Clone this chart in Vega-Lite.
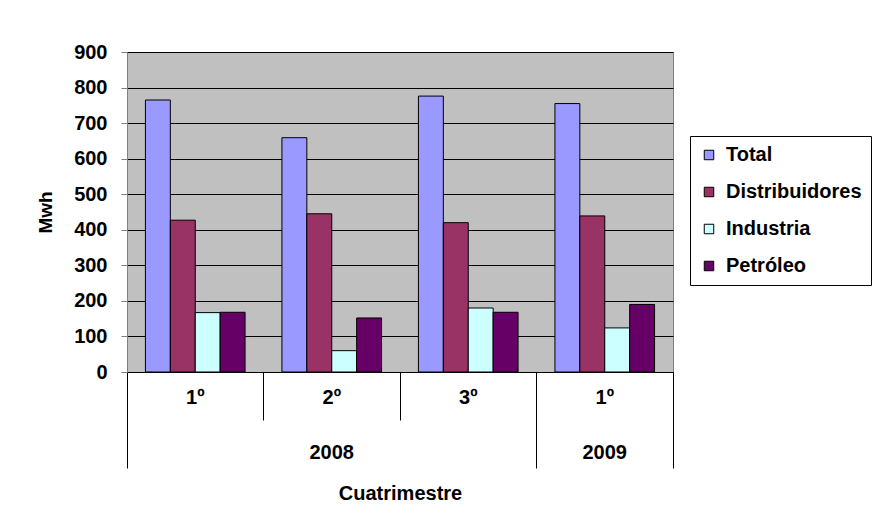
{
  "$schema": "https://vega.github.io/schema/vega-lite/v6.json",
  "width": 546,
  "height": 320,
  "autosize": {"type": "none"},
  "padding": {"left": 127, "top": 52, "right": 208, "bottom": 146},
  "background": "white",
  "config": {
    "font": "Liberation Sans",
    "view": {"fill": "#C0C0C0", "stroke": "#808080", "strokeWidth": 1},
    "axisY": {
      "titleFontSize": 19,
      "titleFontWeight": "bold",
      "titleColor": "black",
      "titlePadding": 18,
      "grid": true,
      "gridColor": "black",
      "tickSize": 6,
      "tickColor": "#808080",
      "domainColor": "#808080",
      "labelPadding": 14,
      "labelFontSize": 20,
      "labelFontWeight": "bold",
      "labelColor": "black"
    }
  },
  "data": {
    "values": [
      {"periodo": "2008-1", "serie": "Total", "mwh": 765},
      {"periodo": "2008-1", "serie": "Distribuidores", "mwh": 427},
      {"periodo": "2008-1", "serie": "Industria", "mwh": 167},
      {"periodo": "2008-1", "serie": "Petróleo", "mwh": 168},
      {"periodo": "2008-2", "serie": "Total", "mwh": 659},
      {"periodo": "2008-2", "serie": "Distribuidores", "mwh": 445},
      {"periodo": "2008-2", "serie": "Industria", "mwh": 60},
      {"periodo": "2008-2", "serie": "Petróleo", "mwh": 152},
      {"periodo": "2008-3", "serie": "Total", "mwh": 776},
      {"periodo": "2008-3", "serie": "Distribuidores", "mwh": 420},
      {"periodo": "2008-3", "serie": "Industria", "mwh": 180},
      {"periodo": "2008-3", "serie": "Petróleo", "mwh": 168},
      {"periodo": "2009-1", "serie": "Total", "mwh": 755},
      {"periodo": "2009-1", "serie": "Distribuidores", "mwh": 439},
      {"periodo": "2009-1", "serie": "Industria", "mwh": 124},
      {"periodo": "2009-1", "serie": "Petróleo", "mwh": 190}
    ]
  },
  "resolve": {"axis": {"x": "independent"}},
  "layer": [
    {
      "mark": {"type": "bar", "stroke": "black", "strokeWidth": 1},
      "encoding": {
        "x": {
          "field": "periodo",
          "type": "nominal",
          "sort": ["2008-1", "2008-2", "2008-3", "2009-1"],
          "scale": {"type": "band", "paddingInner": 0, "paddingOuter": 0},
          "axis": {
            "orient": "bottom",
            "title": null,
            "grid": false,
            "bandPosition": 0,
            "tickSize": 48,
            "tickColor": "black",
            "domainColor": "black",
            "labelAngle": 0,
            "labelAlign": "center",
            "labelExpr": "slice(datum.value, 5) + 'º'",
            "labelBaseline": "middle",
            "labelPadding": -23,
            "labelFontSize": 20,
            "labelFontWeight": "bold",
            "labelColor": "black"
          }
        },
        "xOffset": {
          "field": "serie",
          "type": "nominal",
          "sort": ["Total", "Distribuidores", "Industria", "Petróleo"],
          "scale": {"paddingInner": 0, "paddingOuter": 0.74}
        },
        "y": {
          "field": "mwh",
          "type": "quantitative",
          "scale": {"domain": [0, 900], "nice": false},
          "axis": {
            "title": "Mwh",
            "values": [0, 100, 200, 300, 400, 500, 600, 700, 800, 900]
          }
        },
        "color": {
          "field": "serie",
          "type": "nominal",
          "sort": ["Total", "Distribuidores", "Industria", "Petróleo"],
          "scale": {
            "domain": ["Total", "Distribuidores", "Industria", "Petróleo"],
            "range": ["#9999FF", "#993366", "#CCFFFF", "#660066"]
          },
          "legend": {
            "title": null,
            "orient": "none",
            "legendX": 563,
            "legendY": 84,
            "padding": 9,
            "strokeColor": "black",
            "fillColor": "white",
            "symbolType": "square",
            "symbolSize": 90,
            "symbolStrokeColor": "black",
            "symbolStrokeWidth": 1,
            "labelFontSize": 20,
            "labelFontWeight": "bold",
            "labelColor": "black",
            "labelOffset": 7,
            "rowPadding": 17,
            "labelLimit": 300
          }
        }
      }
    },
    {
      "mark": {"type": "bar", "opacity": 0},
      "encoding": {
        "x": {
          "field": "periodo",
          "type": "nominal",
          "sort": ["2008-1", "2008-2", "2008-3", "2009-1"],
          "axis": {
            "orient": "bottom",
            "values": ["2008-1", "2009-1"],
            "bandPosition": 0,
            "title": "Cuatrimestre",
            "titleFontSize": 20,
            "titleFontWeight": "bold",
            "titleColor": "black",
            "titlePadding": 15,
            "grid": false,
            "domain": false,
            "labels": false,
            "tickSize": 96,
            "tickColor": "black"
          }
        },
        "xOffset": {"field": "serie", "type": "nominal", "sort": ["Total", "Distribuidores", "Industria", "Petróleo"]},
        "y": {
          "field": "mwh",
          "type": "quantitative",
          "axis": {"title": "Mwh", "values": [0, 100, 200, 300, 400, 500, 600, 700, 800, 900]}
        }
      }
    },
    {
      "mark": {"type": "bar", "opacity": 0},
      "encoding": {
        "x": {
          "field": "periodo",
          "type": "nominal",
          "sort": ["2008-1", "2008-2", "2008-3", "2009-1"],
          "axis": {
            "orient": "bottom",
            "values": ["2009-1"],
            "bandPosition": 1,
            "title": null,
            "grid": false,
            "domain": false,
            "labels": false,
            "tickSize": 96,
            "tickColor": "black"
          }
        },
        "xOffset": {"field": "serie", "type": "nominal", "sort": ["Total", "Distribuidores", "Industria", "Petróleo"]},
        "y": {
          "field": "mwh",
          "type": "quantitative",
          "axis": {"title": "Mwh", "values": [0, 100, 200, 300, 400, 500, 600, 700, 800, 900]}
        }
      }
    },
    {
      "mark": {"type": "bar", "opacity": 0},
      "encoding": {
        "x": {
          "field": "periodo",
          "type": "nominal",
          "sort": ["2008-1", "2008-2", "2008-3", "2009-1"],
          "axis": {
            "orient": "bottom",
            "values": ["2008-2", "2009-1"],
            "title": null,
            "grid": false,
            "domain": false,
            "ticks": false,
            "labelAngle": 0,
            "labelExpr": "datum.value == '2008-2' ? '2008' : '2009'",
            "labelBaseline": "middle",
            "labelPadding": 80,
            "labelFontSize": 20,
            "labelFontWeight": "bold",
            "labelColor": "black"
          }
        },
        "xOffset": {"field": "serie", "type": "nominal", "sort": ["Total", "Distribuidores", "Industria", "Petróleo"]},
        "y": {
          "field": "mwh",
          "type": "quantitative",
          "axis": {"title": "Mwh", "values": [0, 100, 200, 300, 400, 500, 600, 700, 800, 900]}
        }
      }
    }
  ]
}
